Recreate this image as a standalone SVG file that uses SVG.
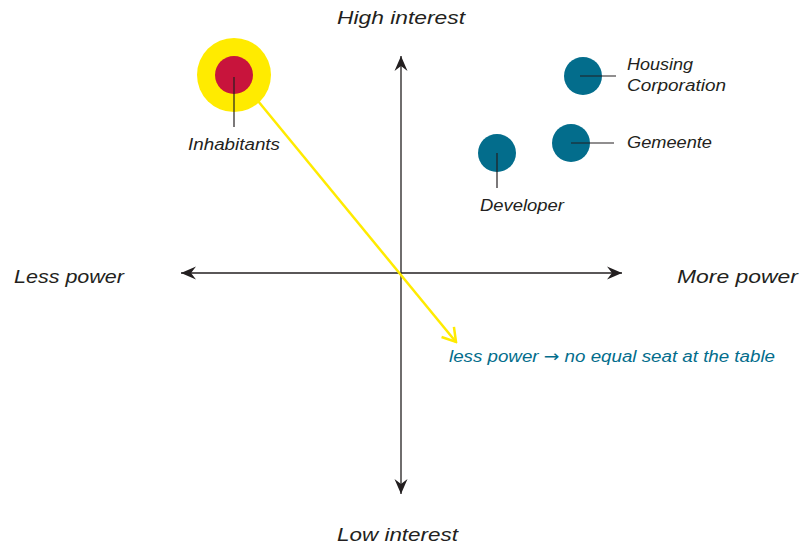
<svg xmlns="http://www.w3.org/2000/svg" width="801" height="547" viewBox="0 0 801 547">
<style>
text{font-family:"Liberation Sans","Noto Sans",sans-serif;font-style:italic;fill:#231f20}
.ax{font-size:19px}
.lb{font-size:16px}
.arr{font-family:"DejaVu Sans",sans-serif;font-style:normal}
.axis{stroke:#231f20;stroke-width:1.3;fill:none}
.lead{stroke:#231f20;stroke-width:1.2}
.teal{fill:#036d8c}
</style>
<defs>
<marker id="ah" viewBox="-16 -8 18 16" markerWidth="18" markerHeight="16" refX="0" refY="0" orient="auto" markerUnits="userSpaceOnUse">
<path d="M0,0 L-15,-6.5 L-10,0 L-15,6.5 Z" fill="#231f20"/>
</marker>
<marker id="ya" viewBox="-16 -10 18 20" markerWidth="18" markerHeight="20" refX="0" refY="0" orient="auto" markerUnits="userSpaceOnUse">
<path d="M-13,-8 L0,0 L-13,8" fill="none" stroke="#ffeb00" stroke-width="2.5"/>
</marker>
</defs>
<g id="connectors">
<line class="axis" x1="401" y1="273" x2="401" y2="56" marker-end="url(#ah)"/>
<line class="axis" x1="401" y1="273" x2="401" y2="494" marker-end="url(#ah)"/>
<line class="axis" x1="401" y1="273" x2="181" y2="273" marker-end="url(#ah)"/>
<line class="axis" x1="401" y1="273" x2="622" y2="273" marker-end="url(#ah)"/>
<line x1="258" y1="101" x2="456" y2="342" stroke="#ffeb00" stroke-width="2.5" marker-end="url(#ya)"/>
</g>
<g id="axis-labels">
<text class="ax" x="337" y="24" textLength="128" lengthAdjust="spacingAndGlyphs">High interest</text>
<text class="ax" x="337" y="541" textLength="121" lengthAdjust="spacingAndGlyphs">Low interest</text>
<text class="ax" x="14" y="283" textLength="110" lengthAdjust="spacingAndGlyphs">Less power</text>
<text class="ax" x="677" y="283" textLength="121" lengthAdjust="spacingAndGlyphs">More power</text>
</g>
<g id="inhabitants">
<circle cx="234" cy="75" r="37" fill="#ffeb00"/>
<circle cx="234" cy="75" r="19" fill="#c8143c"/>
<line class="lead" x1="234" y1="77" x2="234" y2="127"/>
<text class="lb" x="188" y="150" textLength="92" lengthAdjust="spacingAndGlyphs">Inhabitants</text>
</g>
<g id="housing-corporation">
<circle class="teal" cx="583" cy="76" r="19"/>
<line class="lead" x1="580" y1="76" x2="616" y2="76"/>
<text class="lb" x="627" y="70" textLength="66" lengthAdjust="spacingAndGlyphs">Housing</text>
<text class="lb" x="627" y="91" textLength="99" lengthAdjust="spacingAndGlyphs">Corporation</text>
</g>
<g id="gemeente">
<circle class="teal" cx="571" cy="143" r="19"/>
<line class="lead" x1="571" y1="143" x2="614" y2="143"/>
<text class="lb" x="627" y="148" textLength="85" lengthAdjust="spacingAndGlyphs">Gemeente</text>
</g>
<g id="developer">
<circle class="teal" cx="497" cy="153" r="19"/>
<line class="lead" x1="497" y1="153" x2="497" y2="188"/>
<text class="lb" x="480" y="211" textLength="84" lengthAdjust="spacingAndGlyphs">Developer</text>
</g>
<g id="note">
<text class="lb" x="449" y="362" textLength="326" lengthAdjust="spacingAndGlyphs" style="fill:#036d8c">less power <tspan class="arr">→</tspan> no equal seat at the table</text>
</g>
</svg>
